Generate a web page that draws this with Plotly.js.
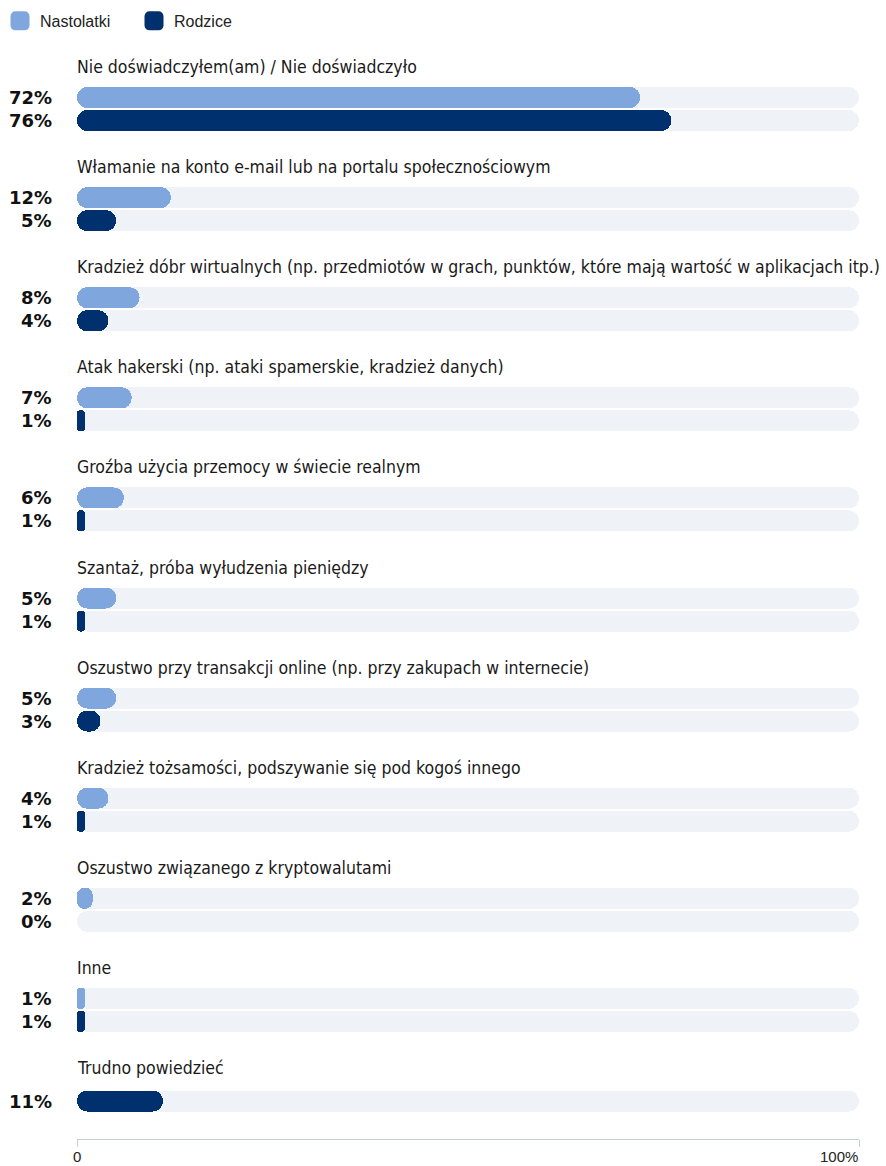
<!DOCTYPE html>
<html>
<head>
<meta charset="utf-8">
<script src="https://cdn.plot.ly/plotly-3.0.1.min.js"></script>
<style>
  html, body { margin: 0; padding: 0; background: #ffffff; }
  #chart { width: 886px; height: 1166px; }
</style>
</head>
<body>
<div id="chart"></div>
<script>
// ---------- DATA ----------
const categories = [
  'Nie doświadczyłem(am) / Nie doświadczyło',
  'Włamanie na konto e-mail lub na portalu społecznościowym',
  'Kradzież dóbr wirtualnych (np. przedmiotów w grach, punktów, które mają wartość w aplikacjach itp.)',
  'Atak hakerski (np. ataki spamerskie, kradzież danych)',
  'Groźba użycia przemocy w świecie realnym',
  'Szantaż, próba wyłudzenia pieniędzy',
  'Oszustwo przy transakcji online (np. przy zakupach w internecie)',
  'Kradzież tożsamości, podszywanie się pod kogoś innego',
  'Oszustwo związanego z kryptowalutami',
  'Inne',
  'Trudno powiedzieć'
];
const nastolatki = [72, 12, 8, 7, 6, 5, 5, 4, 2, 1, null];
const rodzice    = [76, 5, 4, 1, 1, 1, 3, 1, 0, 1, 11];
const seriesNames = ['Nastolatki', 'Rodzice'];
const trackMax = 100;
const tickVals = [0, 100];
const tickText = ['0', '100%'];

// ---------- STYLE ----------
const colors = ['#7fa6dd', '#00306e'];
const trackColor = '#eff2f7';
const axisColor = '#c8cdd6';
const titleFont = "'DejaVu Sans Condensed', 'Liberation Sans Narrow', sans-serif";
const labelFont = "'DejaVu Sans', sans-serif";
const plainFont = "'Liberation Sans', Arial, sans-serif";
const BAR_W = 21;
const RADIUS = 10.5;

// ---------- LAYOUT POSITIONS (y axis units = pixels) ----------
const TITLE0 = 67, PITCH = 100.1;
const titleY = g => TITLE0 + g * PITCH;

const series = [nastolatki, rodzice];
const rows = []; // {g, s, y, v}
categories.forEach((c, g) => {
  const present = series.map((arr, s) => (arr[g] !== null && arr[g] !== undefined) ? s : -1).filter(s => s >= 0);
  const offs = present.length === 2 ? [30.5, 53.5] : [33];
  present.forEach((s, k) => rows.push({ g, s, y: titleY(g) + offs[k], v: series[s][g] }));
});

const traces = [];
// background tracks (base given -> floating bar, both ends rounded)
const allY = rows.map(r => r.y);
traces.push({
  type: 'bar', orientation: 'h',
  y: allY, x: allY.map(() => trackMax), base: allY.map(() => 0),
  width: BAR_W,
  marker: { color: trackColor, cornerradius: RADIUS, line: { width: 0 } },
  showlegend: false, hoverinfo: 'skip'
});
// series bars
series.forEach((arr, s) => {
  const r = rows.filter(q => q.s === s);
  traces.push({
    type: 'bar', orientation: 'h',
    name: seriesNames[s],
    y: r.map(q => q.y), x: r.map(q => q.v), base: r.map(() => 0),
    width: BAR_W,
    marker: { color: colors[s], cornerradius: RADIUS, line: { width: 0 } },
    showlegend: true,
    hoverinfo: 'skip'
  });
});
// empty trace to activate the second x axis (ticks crossing the axis line)
traces.push({ type: 'scatter', x: [], y: [], xaxis: 'x2', yaxis: 'y', showlegend: false, hoverinfo: 'skip' });

const annotations = [];
categories.forEach((c, g) => {
  annotations.push({
    xref: 'x', yref: 'y', x: 0, y: titleY(g), xanchor: 'left', yanchor: 'middle', xshift: -2,
    text: c, showarrow: false, font: { family: titleFont, size: 17.5, color: '#1a1a1a' }
  });
});
rows.forEach(q => {
  annotations.push({
    xref: 'x', yref: 'y', x: 0, y: q.y, xanchor: 'right', yanchor: 'middle', xshift: -23,
    text: '<b>' + q.v + '%</b>', showarrow: false,
    font: { family: labelFont, size: 18, color: '#111111' }
  });
});
tickVals.forEach((t, i) => {
  annotations.push({
    xref: 'x', yref: 'paper', x: t, y: 0, xanchor: i === 0 ? 'center' : 'right', yanchor: 'top',
    yshift: -8, borderpad: 0,
    text: tickText[i], showarrow: false, font: { family: plainFont, size: 15, color: '#222222' }
  });
});

const layout = {
  width: 886, height: 1166,
  margin: { l: 77, r: 27, t: 0, b: 27, pad: 0, autoexpand: false },
  paper_bgcolor: '#ffffff', plot_bgcolor: '#ffffff',
  barmode: 'overlay', bargap: 0,
  showlegend: true,
  legend: {
    orientation: 'h', xref: 'container', yref: 'container', x: 0, y: 0.9966,
    xanchor: 'left', yanchor: 'top', entrywidth: 89, entrywidthmode: 'pixels',
    font: { family: plainFont, size: 16, color: '#222222' },
    traceorder: 'normal', itemclick: false, itemdoubleclick: false
  },
  xaxis: {
    range: [0, 100], fixedrange: true, showgrid: false, zeroline: false,
    showline: true, linecolor: axisColor, linewidth: 1,
    ticks: 'outside', ticklen: 7, tickcolor: axisColor, tickwidth: 1,
    tickvals: tickVals, showticklabels: false
  },
  xaxis2: {
    overlaying: 'x', anchor: 'y', side: 'bottom', range: [0, 100], fixedrange: true,
    showgrid: false, zeroline: false, showline: false,
    ticks: 'inside', ticklen: 7, tickcolor: axisColor, tickwidth: 1,
    tickvals: tickVals, showticklabels: false
  },
  yaxis: { range: [1139, 0], visible: false, fixedrange: true, showgrid: false, zeroline: false },
  annotations: annotations
};

Plotly.newPlot('chart', traces, layout, { displayModeBar: false, staticPlot: true }).then(gd => {
  // larger rounded legend swatches, as in the original design
  gd.querySelectorAll('.legend .legendpoints path').forEach(p => {
    p.setAttribute('d', 'M4.5,-9.5A5,5 0 0 1 9.5,-4.5V4.5A5,5 0 0 1 4.5,9.5H-4.5A5,5 0 0 1 -9.5,4.5V-4.5A5,5 0 0 1 -4.5,-9.5Z');
  });
});
</script>
</body>
</html>
